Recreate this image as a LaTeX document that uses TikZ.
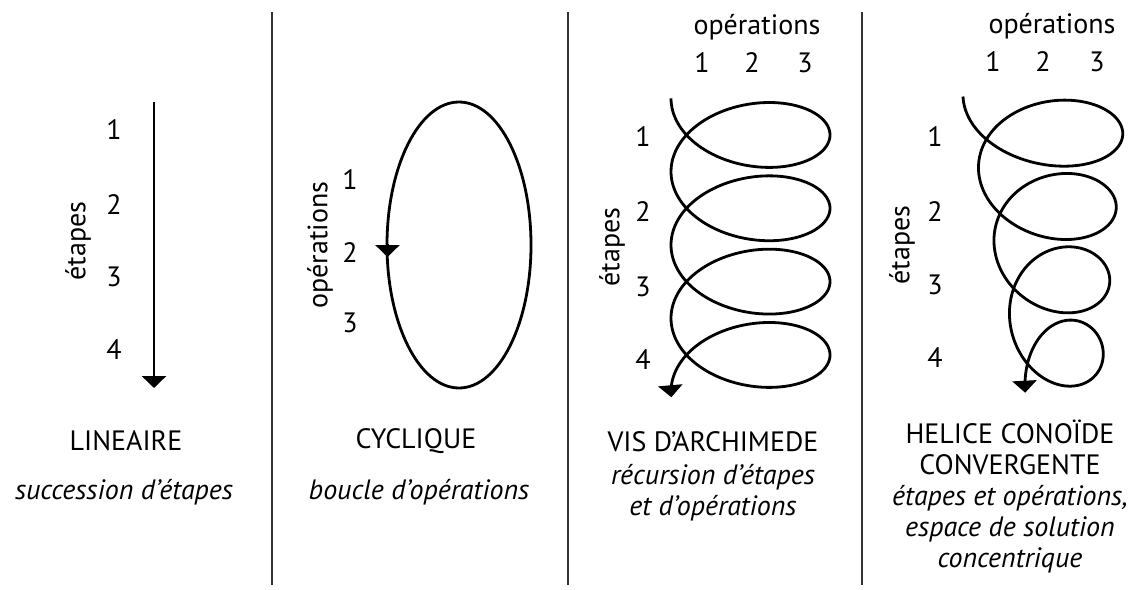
\documentclass[tikz,border=0pt]{standalone}
\usepackage{fontspec}
\setmainfont{PT Sans}
\usetikzlibrary{arrows.meta}
\begin{document}
\begin{tikzpicture}[x=1pt,y=-1pt,
  lbl/.style={font=\fontsize{28}{31}\selectfont, inner sep=0pt, anchor=center},
  ttl/.style={font=\fontsize{28}{31}\selectfont, inner sep=0pt, align=center, anchor=center},
  sub/.style={font=\fontsize{28}{31}\selectfont\itshape, inner sep=0pt, align=center, anchor=center},
  curve/.style={line width=2.8pt, -{Triangle[width=24pt,length=12pt]}},
  divider/.style={line width=1.3pt, black!80}]
\useasboundingbox (0,0) rectangle (1137,589);
% dividers
\coordinate (d1t) at (272,12); \coordinate (d1b) at (272,585);
\coordinate (d2t) at (568,12); \coordinate (d2b) at (568,585);
\coordinate (d3t) at (862,12); \coordinate (d3b) at (862,585);
\draw[divider] (d1t) -- (d1b);
\draw[divider] (d2t) -- (d2b);
\draw[divider] (d3t) -- (d3b);

% ---------- panel 1 : linear
\coordinate (a1) at (154,102); \coordinate (a2) at (154,388);
\draw[curve] (a1) -- (a2);
\node[lbl] (p1n1) at (114,130) {1};
\node[lbl] (p1n2) at (114,205) {2};
\node[lbl] (p1n3) at (114,277) {3};
\node[lbl] (p1n4) at (114,350) {4};
\node[lbl, rotate=90] (p1et) at (78,241) {étapes};
\node[ttl] (p1t) at (126,441) {LINEAIRE};
\node[sub] (p1s) at (124,492) {succession d’étapes};

% ---------- panel 2 : cyclic
\draw[line width=2.8pt] (459,245) ellipse [x radius=72, y radius=143];
\coordinate (c1) at (387.5,244); \coordinate (c2) at (387.5,257);
\draw[curve] (c1) -- (c2);
\node[lbl] (p2n1) at (350,180) {1};
\node[lbl] (p2n2) at (350,253) {2};
\node[lbl] (p2n3) at (350,323) {3};
\node[lbl, rotate=90] (p2op) at (320,245) {opérations};
\node[ttl] (p2t) at (416,441) {CYCLIQUE};
\node[sub] (p2s) at (419,492) {boucle d’opérations};

% ---------- panel 3 : Archimedes screw
\draw[curve] plot[domain=0:25.23, samples=500]
  ({750.5-79.5*cos(\x r)}, {98.3+49.4*sin(\x r)+11.67*\x});
\node[lbl] (p3op) at (757,27) {opérations};
\node[lbl] (p3c1) at (702,63) {1};
\node[lbl] (p3c2) at (752,63) {2};
\node[lbl] (p3c3) at (805,63) {3};
\node[lbl] (p3n1) at (643,137) {1};
\node[lbl] (p3n2) at (643,212) {2};
\node[lbl] (p3n3) at (643,287) {3};
\node[lbl] (p3n4) at (643,360) {4};
\node[lbl, rotate=90] (p3et) at (612,247) {étapes};
\node[ttl] (p3t) at (713,442) {VIS D’ARCHIMEDE};
\node[sub] (p3s) at (713,493) {récursion d’étapes\\et d’opérations};

% ---------- panel 4 : converging conoid helix
\draw[curve] plot[domain=0:25.18, samples=500]
  ({1044.5+18*\x/25.1327-(81.5-44*\x/25.1327)*cos(\x r)}, {96.5+50*sin(\x r)+11.67*\x});
\node[lbl] (p4op) at (1052,26) {opérations};
\node[lbl] (p4c1) at (993,62) {1};
\node[lbl] (p4c2) at (1043,62) {2};
\node[lbl] (p4c3) at (1097,62) {3};
\node[lbl] (p4n1) at (935,137) {1};
\node[lbl] (p4n2) at (935,212) {2};
\node[lbl] (p4n3) at (935,285) {3};
\node[lbl] (p4n4) at (935,358) {4};
\node[lbl, rotate=90] (p4et) at (902,245) {étapes};
\node[ttl] (p4t) at (1010,447) {HELICE CONOÏDE\\CONVERGENTE};
\node[sub] (p4s) at (1010,529) {étapes et opérations,\\espace de solution\\concentrique};
\end{tikzpicture}
\end{document}
